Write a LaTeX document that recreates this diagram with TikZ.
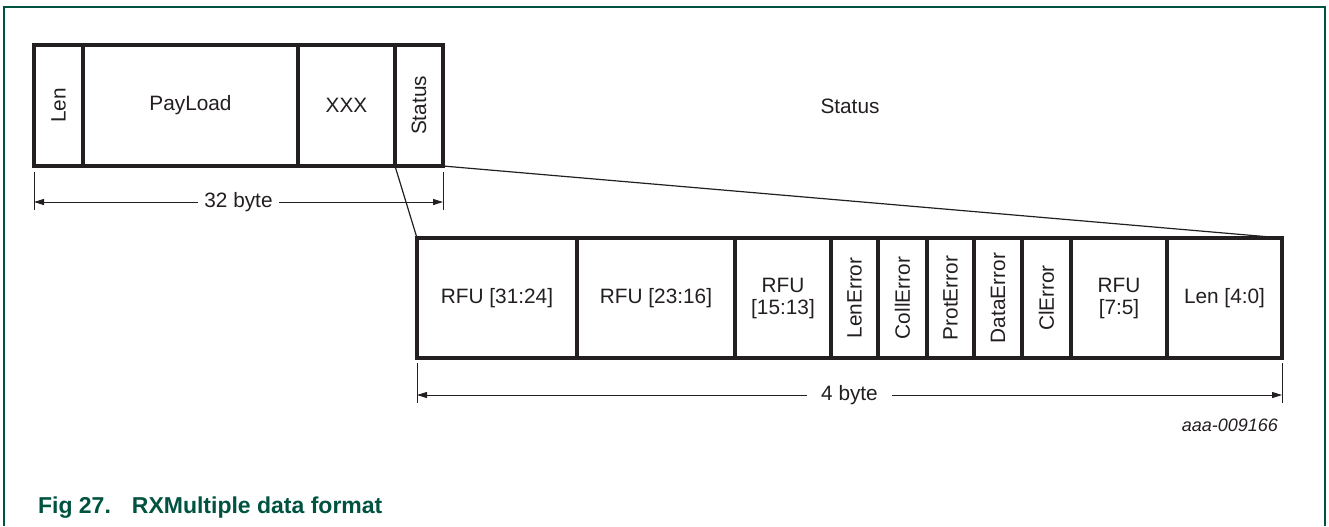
\documentclass[tikz,border=0pt]{standalone}
\usepackage{fontspec}
\setmainfont{Liberation Sans}
\usepackage{tikz}
\usetikzlibrary{arrows.meta,positioning,calc}
\definecolor{nxpgreen}{RGB}{0,83,64}
\definecolor{ink}{RGB}{35,31,32}

\begin{document}
\begin{tikzpicture}[x=0.5pt, y=-0.5pt, font=\fontsize{10.4}{12}\selectfont, text=ink,
  cell/.style={draw=ink, line width=2pt, outer sep=0pt, inner sep=1pt, align=center},
  topcell/.style={cell, minimum height=60.5pt},
  bitcell/.style={cell, minimum height=60pt},
  tick/.style={draw=ink, line width=0.5pt},
  dim/.style={{Triangle[length=5pt,width=3pt]}-{Triangle[length=5pt,width=3pt]}, line width=0.5pt, draw=ink},
  link/.style={draw=ink, line width=0.6pt},
  frame/.style={draw=nxpgreen, line width=1pt}]
  \useasboundingbox (0,0) rectangle (1329,526);
  \draw[frame] (4,526) -- (4,7) -- (1325,7) -- (1325,526);
  \node[topcell, minimum width=24.5pt, anchor=north west] (lenA) at (34,45) {\rotatebox{90}{Len}};
  \node[topcell, minimum width=107.5pt, right=0pt of lenA] (payload) {PayLoad};
  \node[topcell, minimum width=48.5pt, right=0pt of payload] (xxx) {XXX};
  \node[topcell, minimum width=24pt, right=0pt of xxx] (statusA) {\rotatebox{90}{Status}};
  \node (title) at (850,106) {Status};
  \node[bitcell, minimum width=80pt, anchor=north west] (rfuHi) at (417,238) {RFU [31:24]};
  \node[bitcell, minimum width=79pt, right=0pt of rfuHi] (rfuMid) {RFU [23:16]};
  \node[bitcell, minimum width=48pt, right=0pt of rfuMid] (rfuLo) {RFU\\[-1pt][15:13]};
  \node[bitcell, minimum width=23.5pt, right=0pt of rfuLo] (lenErr) {\rotatebox{90}{LenError}};
  \node[bitcell, minimum width=24.5pt, right=0pt of lenErr] (collErr) {\rotatebox{90}{CollError}};
  \node[bitcell, minimum width=23.5pt, right=0pt of collErr] (protErr) {\rotatebox{90}{ProtError}};
  \node[bitcell, minimum width=24pt, right=0pt of protErr] (dataErr) {\rotatebox{90}{DataError}};
  \node[bitcell, minimum width=24.5pt, right=0pt of dataErr] (clErr) {\rotatebox{90}{ClError}};
  \node[bitcell, minimum width=48pt, right=0pt of clErr] (rfuB) {RFU\\[-1pt][7:5]};
  \node[bitcell, minimum width=57.5pt, right=0pt of rfuB] (lenB) {Len [4:0]};
  \draw[link] (statusA.south west) -- (rfuHi.north west);
  \draw[link] (statusA.south east) -- (lenB.north east);
  \draw[tick] ($(lenA.south west)+(0,6)$) -- ++(0,38);
  \draw[tick] ($(statusA.south east)+(0,6)$) -- ++(0,38);
  \draw[dim] ($(lenA.south west)+(0,36)$) -- node[fill=white, inner xsep=3pt, inner ysep=1pt] {32 byte} ($(statusA.south east)+(0,36)$);
  \draw[tick] ($(rfuHi.south west)+(0,5)$) -- ++(0,40);
  \draw[tick] ($(lenB.south east)+(0,5)$) -- ++(0,40);
  \draw[dim] ($(rfuHi.south west)+(0,37)$) -- node[fill=white, inner xsep=7pt, inner ysep=1pt] {4 byte} ($(lenB.south east)+(0,37)$);
  \node[anchor=east, font=\fontsize{9}{11}\selectfont\itshape] (ref) at (1285,425) {aaa-009166};
  \node[anchor=west, text=nxpgreen, font=\fontsize{11.5}{14}\selectfont\bfseries] (caption) at (31,508) {Fig 27.\hspace{10.5pt}RXMultiple data format};
\end{tikzpicture}
\end{document}
